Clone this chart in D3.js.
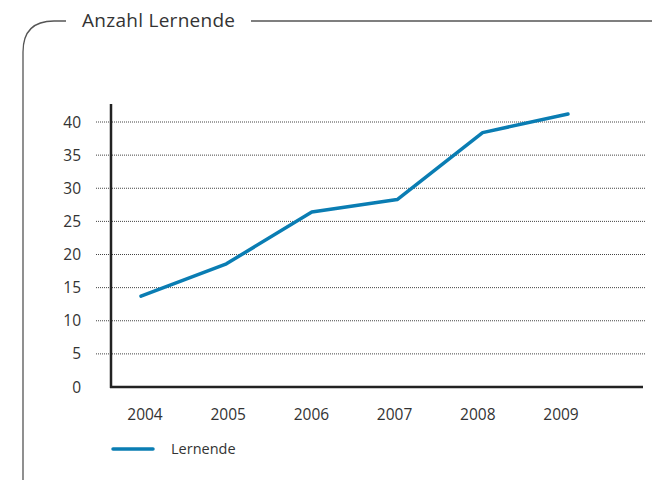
<!DOCTYPE html>
<html>
<head>
<meta charset="utf-8">
<script src="https://cdn.jsdelivr.net/npm/d3@7"></script>
<style>
  body { margin: 0; background: #fff; }
  svg text { font-family: "Open Sans", Lato, sans-serif; fill: #333; }
</style>
</head>
<body>
<svg id="chart" width="652" height="480"></svg>
<script>
const years = [2004, 2005, 2006, 2007, 2008, 2009];
const lernende = [13.7, 18.6, 26.4, 28.3, 38.4, 41.2];
const yTicks = [0, 5, 10, 15, 20, 25, 30, 35, 40];
const title = "Anzahl Lernende";
const seriesName = "Lernende";

const blue = "#0a7db3";

const svg = d3.select("#chart");

// frame with rounded corner and title
svg.append("path")
  .attr("d", "M66,21 H54 Q23,21 23,52 V480")
  .attr("fill", "none")
  .attr("stroke", "#555")
  .attr("stroke-width", 1.3);
svg.append("line")
  .attr("x1", 251).attr("x2", 652)
  .attr("y1", 21).attr("y2", 21)
  .attr("stroke", "#555")
  .attr("stroke-width", 1.3);
svg.append("text")
  .attr("x", 82).attr("y", 27)
  .attr("font-size", 19)
  .attr("textLength", 153)
  .text(title);

const y = d3.scaleLinear().domain([0, 40]).range([387, 122]);
const x = d3.scalePoint().domain(years).range([141, 568]);
const xLabel = d3.scalePoint().domain(years).range([145, 561]);

// dotted gridlines
svg.append("g")
  .selectAll("line")
  .data(yTicks.filter(d => d > 0))
  .join("line")
  .attr("x1", 96).attr("x2", 645)
  .attr("y1", d => y(d)).attr("y2", d => y(d))
  .attr("stroke", "#444")
  .attr("stroke-width", 1)
  .attr("stroke-dasharray", "1,1");

// y tick labels
svg.append("g")
  .selectAll("text")
  .data(yTicks)
  .join("text")
  .attr("x", 81)
  .attr("y", d => y(d) + 5.5)
  .attr("text-anchor", "end")
  .attr("font-size", 15.5)
  .text(d => d);

// axes lines
svg.append("line")
  .attr("x1", 111).attr("x2", 111)
  .attr("y1", 104).attr("y2", 388)
  .attr("stroke", "#222").attr("stroke-width", 2.5);
svg.append("line")
  .attr("x1", 110).attr("x2", 643)
  .attr("y1", 387).attr("y2", 387)
  .attr("stroke", "#222").attr("stroke-width", 2.5);

// x labels
svg.append("g")
  .selectAll("text")
  .data(years)
  .join("text")
  .attr("x", d => xLabel(d))
  .attr("y", 420)
  .attr("text-anchor", "middle")
  .attr("font-size", 15.5)
  .text(d => d);

// line
const line = d3.line()
  .x((d, i) => x(years[i]))
  .y(d => y(d));

svg.append("path")
  .datum(lernende)
  .attr("d", line)
  .attr("fill", "none")
  .attr("stroke", blue)
  .attr("stroke-width", 3.5)
  .attr("stroke-linecap", "round")
  .attr("stroke-linejoin", "round");

// legend
svg.append("line")
  .attr("x1", 113).attr("x2", 153)
  .attr("y1", 449).attr("y2", 449)
  .attr("stroke", blue)
  .attr("stroke-width", 3.5)
  .attr("stroke-linecap", "round");
svg.append("text")
  .attr("x", 171).attr("y", 454)
  .attr("font-size", 14.5)
  .text(seriesName);
</script>
</body>
</html>
